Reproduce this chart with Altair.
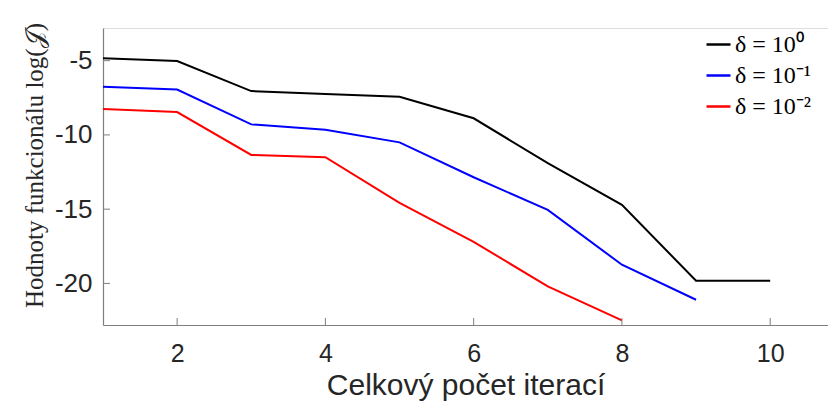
import altair as alt
import pandas as pd

iterations = [1, 2, 3, 4, 5, 6, 7, 8, 9, 10]
series_names = ["δ = 10⁰", "δ = 10⁻¹", "δ = 10⁻²"]
vals_d0 = [-4.83, -5.03, -7.05, -7.25, -7.43, -8.88, -11.9, -14.71, -19.82, -19.82]
vals_d1 = [-6.76, -6.94, -9.29, -9.65, -10.5, -12.85, -15.05, -18.74, -21.1]
vals_d2 = [-8.26, -8.46, -11.35, -11.5, -14.58, -17.2, -20.2, -22.49]
colors = ["#000000", "#0000ff", "#ff0000"]
x_ticks = [2, 4, 6, 8, 10]
y_ticks = [-5, -10, -15, -20]

rows = []
for name, vals in zip(series_names, [vals_d0, vals_d1, vals_d2]):
    for it, v in zip(iterations, vals):
        rows.append({"it": it, "val": v, "series": name})
df = pd.DataFrame(rows)

W, H = 725, 297
xscale = alt.Scale(domain=[1, 10.78], nice=False, zero=False)
yscale = alt.Scale(domain=[-22.8, -2.8], nice=False, zero=False)

lines = alt.Chart(df).mark_line(strokeWidth=2).encode(
    x=alt.X("it:Q", scale=xscale,
            axis=alt.Axis(title="Celkový počet iterací", values=x_ticks, grid=False,
                          labelExpr="toString(datum.value)",
                          tickSize=0, labelPadding=16, labelFontSize=25,
                          labelFont="Liberation Sans", labelColor="#262626",
                          titleFont="Liberation Sans", titleFontSize=30,
                          titleFontWeight="normal", titleColor="#262626",
                          titlePadding=4, domainColor="#7f7f7f", domainWidth=1.2)),
    y=alt.Y("val:Q", scale=yscale,
            axis=alt.Axis(title="Hodnoty funkcionálu log(𝒥)", values=y_ticks, grid=False,
                          labelExpr="toString(datum.value)",
                          tickSize=0, labelPadding=11, labelFontSize=26,
                          labelFont="Liberation Sans", labelColor="#262626",
                          titleFont="Liberation Serif", titleFontSize=25,
                          titleFontWeight="normal", titleColor="#262626",
                          titleX=-61, titleY=137, titleAngle=-90,
                          titleBaseline="alphabetic", titleAlign="center",
                          domainColor="#7f7f7f", domainWidth=1.2)),
    color=alt.Color("series:N",
                    scale=alt.Scale(domain=series_names, range=colors),
                    legend=alt.Legend(title=None, orient="none", legendX=602, legendY=3,
                                      padding=0,
                                      symbolType="stroke", symbolSize=576,
                                      symbolStrokeWidth=2.5, labelFont="Liberation Serif",
                                      labelFontSize=24, labelColor="#000000",
                                      rowPadding=5, labelOffset=3)),
    detail="series:N",
)

xt = pd.DataFrame({"t": x_ticks})
yt = pd.DataFrame({"t": y_ticks})
xtick_marks = alt.Chart(xt).mark_rule(color="#7f7f7f", strokeWidth=1).encode(
    x=alt.X("t:Q", scale=xscale), y=alt.value(H), y2=alt.value(H - 7))
ytick_marks = alt.Chart(yt).mark_rule(color="#7f7f7f", strokeWidth=1).encode(
    y=alt.Y("t:Q", scale=yscale), x=alt.value(0), x2=alt.value(7))

chart = alt.layer(lines, xtick_marks, ytick_marks).properties(
    width=W, height=H,
    autosize=alt.AutoSizeParams(type="none"),
    padding={"left": 95, "top": 20, "right": 0, "bottom": 80},
).configure_view(stroke=None).configure(background="white")

chart.save("out.html", embed_options={"renderer": "svg", "actions": False})
